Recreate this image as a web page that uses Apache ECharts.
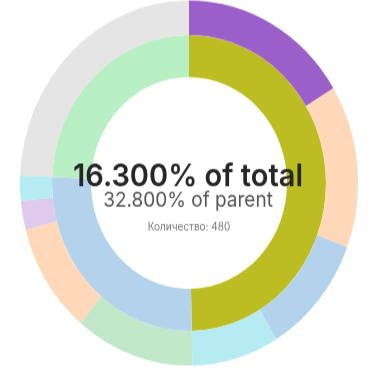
<!DOCTYPE html>
<html>
<head>
<meta charset="utf-8">
<script src="https://cdn.jsdelivr.net/npm/echarts@6/dist/echarts.min.js"></script>
<style>
html,body{margin:0;padding:0;background:#fff;overflow:hidden;}
#c{width:370px;height:375px;transform:scaleY(1.08);transform-origin:189px 183px;}
</style>
</head>
<body>
<div id="c"></div>
<script>
// Inner ring (parents), clockwise from top
const parentNames = ['Группа A', 'Группа B', 'Группа C'];
const parentColors = ['#bcbd22', '#b3d3ec', '#b8f0c4'];
// Outer ring (children), per parent
const childNames = [
  ['A1', 'A2', 'A3', 'A4'],
  ['B1', 'B2', 'B3', 'B4'],
  ['C1']
];
const childValues = [
  [480, 425, 313, 245],
  [336, 288, 75, 66],
  [717]
];
const childColors = [
  ['#9a5fc9', '#fed8b8', '#b3d3ec', '#b5ebf2'],
  ['#c1e8c9', '#fed8b8', '#ddcaec', '#b5ebf2'],
  ['#e5e5e5']
];
const highlight = { parent: 0, child: 0, label: 'Количество' };

const parentValues = childValues.map(a => a.reduce((s, v) => s + v, 0));
const total = parentValues.reduce((s, v) => s + v, 0);

const innerData = parentNames.map((n, i) => ({ name: n, value: parentValues[i], itemStyle: { color: parentColors[i] } }));
const outerData = [];
childNames.forEach((arr, i) => arr.forEach((n, j) => outerData.push({ name: n, value: childValues[i][j], itemStyle: { color: childColors[i][j] } })));

const hv = childValues[highlight.parent][highlight.child];
const pctTotal = (Math.round(1000 * hv / total) / 10).toFixed(3);
const pctParent = (Math.round(1000 * hv / parentValues[highlight.parent]) / 10).toFixed(3);

const chart = echarts.init(document.getElementById('c'), null, { renderer: 'canvas' });
const common = {
  type: 'pie', center: [189, 183], startAngle: 90, clockwise: true,
  label: { show: false }, labelLine: { show: false }, silent: true,
  itemStyle: { borderWidth: 0 }, animation: false, avoidLabelOverlap: false, z: 1
};
chart.setOption({
  animation: false,
  series: [
    Object.assign({}, common, { radius: [98, 137], data: innerData }),
    Object.assign({}, common, { radius: [137, 169], data: outerData })
  ],
  graphic: [
    { type: 'text', z: 100, zlevel: 1, x: 188, y: 177, style: { text: pctTotal + '% of total', font: '600 29px Inter, Roboto, sans-serif', fill: '#262626', textAlign: 'center', textVerticalAlign: 'middle' } },
    { type: 'text', z: 100, zlevel: 1, x: 188, y: 199, style: { text: pctParent + '% of parent', font: '400 19px Inter, Roboto, sans-serif', fill: '#555', textAlign: 'center', textVerticalAlign: 'middle' } },
    { type: 'text', z: 100, zlevel: 1, x: 189, y: 224, style: { text: highlight.label + ': ' + hv, font: '400 10px Inter, Roboto, sans-serif', fill: '#777', textAlign: 'center', textVerticalAlign: 'middle' } }
  ]
});
</script>
</body>
</html>
